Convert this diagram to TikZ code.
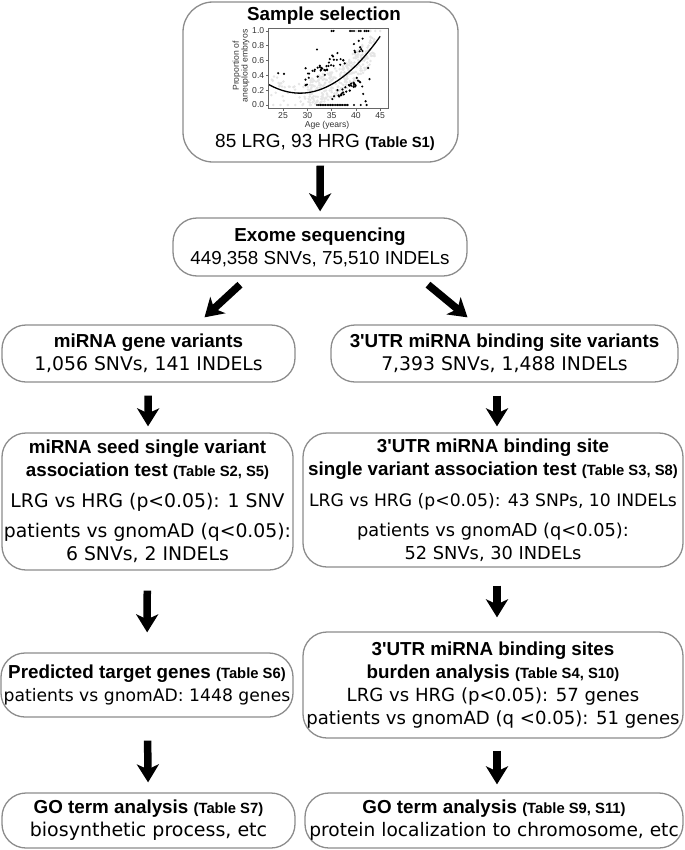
\documentclass[tikz,border=0pt]{standalone}
\usepackage{fontspec}
\setmainfont{Liberation Sans}
\newfontfamily\dejavu{DejaVu Sans}
\usepackage{tikz}
\usetikzlibrary{positioning, calc, arrows.meta}

\newcommand{\boxtitle}[1]{{\fontsize{18.8bp}{23bp}\selectfont\bfseries #1}}
\newcommand{\tabref}[1]{{\fontsize{14.8bp}{23bp}\selectfont\bfseries #1}}
\newcommand{\dv}[2]{{\dejavu\fontsize{#1bp}{23bp}\selectfont #2}}

\begin{document}
\begin{tikzpicture}[x=1bp, y=-1bp]
        % Define block styles
        \tikzstyle{block} = [rectangle, draw=black!45, line width=1.3bp, rounded corners=24bp, align=center, inner sep=0pt, font=\fontsize{18.8bp}{23bp}\selectfont]
        \tikzstyle{bigarrow} = [line width=7.5bp, -{Stealth[width=22bp, length=18bp, inset=5bp]}]
        \tikzstyle{ticklabel} = [font=\fontsize{8.6bp}{9bp}\selectfont, text=black!80, inner sep=1.5bp]

        \useasboundingbox (0,0) rectangle (685,850);

        % Place nodes
        \node [block, minimum width=275bp, minimum height=160bp, rounded corners=30bp] (sample) at (320.5,82) {};
        \node (sample_title) at (324,16) {\boxtitle{Sample selection}};
        \node (sample_count) at (325,142) {\fontsize{19bp}{23bp}\selectfont 85 LRG, 93 HRG \tabref{(Table S1)}};

        \node [block, minimum width=294bp, minimum height=58bp] (exome) at (320,247) {\boxtitle{Exome sequencing}\\ 449,358 SNVs, 75,510 INDELs};

        \node [block, minimum width=293bp, minimum height=57bp] (mir_gene) at (148.5,353.5) {\boxtitle{miRNA gene variants}\\ \dv{18.8}{1,056 SNVs, 141 INDELs}};
        \node [block, minimum width=347bp, minimum height=57bp] (utr_site) at (504.5,353.5) {\boxtitle{3\textquotesingle UTR miRNA binding site variants}\\ \dv{18.8}{7,393 SNVs, 1,488 INDELs}};

        \node [block, minimum width=291bp, minimum height=137bp] (seed_test) at (147.5,501.5) {\boxtitle{miRNA seed single variant}\\ \boxtitle{association test} \tabref{(Table S2, S5)}\\[8bp] \dv{18.8}{LRG vs HRG (p<0.05): 1 SNV}\\[7bp] \dv{18.8}{patients vs gnomAD (q<0.05):}\\ \dv{18.8}{6 SNVs, 2 INDELs}};
        \node [block, minimum width=380bp, minimum height=134bp] (site_test) at (493,500) {\boxtitle{3\textquotesingle UTR miRNA binding site}\\ \boxtitle{single variant association test} \tabref{(Table S3, S8)}\\[8bp] \dv{17.2}{LRG vs HRG (p<0.05): 43 SNPs, 10 INDELs}\\[7bp] \dv{17.8}{patients vs gnomAD (q<0.05):}\\ \dv{17.8}{52 SNVs, 30 INDELs}};

        \node [block, minimum width=292bp, minimum height=64bp] (targets) at (147,685) {\boxtitle{Predicted target genes} \tabref{(Table S6)}\\ \dv{17.2}{patients vs gnomAD: 1448 genes}};
        \node [block, minimum width=380bp, minimum height=106bp] (burden) at (493,685) {\boxtitle{3\textquotesingle UTR miRNA binding sites}\\ \boxtitle{burden analysis} \tabref{(Table S4, S10)}\\ \dv{18.1}{LRG vs HRG (p<0.05): 57 genes}\\ \dv{18.1}{patients vs gnomAD (q <0.05): 51 genes}};

        \node [block, minimum width=293bp, minimum height=55bp] (go_left) at (148.5,820.5) {\boxtitle{GO term analysis} \tabref{(Table S7)}\\ \dv{19}{biosynthetic process, etc}};
        \node [block, minimum width=378bp, minimum height=55bp] (go_right) at (494,820.5) {\boxtitle{GO term analysis} \tabref{(Table S9, S11)}\\ \dv{18.6}{protein localization to chromosome, etc}};

        \coordinate (right_col) at (497,0);

        % Age plot inside the sample box
        \begin{scope}[shift={(161.5,105)}, x=4.86bp, y=74bp]
            \pgfmathsetseed{11}
            \foreach \i in {1,...,300} {
                \pgfmathsetmacro\ag{30.5+13.5*rnd}
                \pgfmathsetmacro\pv{max(0,min(1,0.00283*(\ag-28.5)^2+0.16+0.2*rand))}
                \fill[black!10] (\ag,\pv) circle (1.4bp);
            }
            \foreach \i in {1,...,40} {
                \pgfmathsetmacro\ag{22.5+9*rnd}
                \pgfmathsetmacro\pv{max(0,0.00283*(\ag-28.5)^2+0.16+0.15*rand)}
                \fill[black!10] (\ag,\pv) circle (1.4bp);
            }
            \foreach \ag in {23,24.5,...,31} \fill[black!10] (\ag,0) circle (1.4bp);
            \foreach \ag in {40,41,...,45} \fill[black!10] (\ag,1) circle (1.4bp);

            \draw[line width=1.3bp, domain=22:45, smooth, samples=40] plot (\x, {0.00283*(\x-28.5)^2+0.16});

            % LRG and HRG patients
            \foreach \ag in {32,32.35,...,38.5, 39.6, 41, 42.2} \fill (\ag,0) circle (1.2bp);
            \foreach \ag in {35,35.4,38.8,39.2,39.6,40.6,41,41.8,42.2,42.6} \fill (\ag,1) circle (1.2bp);
            \foreach \i in {1,...,48} {
                \pgfmathsetmacro\ag{29.5+12*rnd}
                \pgfmathsetmacro\pv{0.38+(\ag-29.5)*0.035+0.12*rand}
                \fill (\ag,\pv) circle (1.2bp);
            }
            \foreach \i in {1,...,32} {
                \pgfmathsetmacro\ag{35+6*rnd}
                \pgfmathsetmacro\pv{0.1+(\ag-35)*0.04+0.06*rand}
                \fill (\ag,\pv) circle (1.2bp);
            }
            \foreach \ag/\pv in {24/0.43, 25.2/0.42, 32/0.75, 42.5/0.5, 42.8/0.35, 41.5/0.15, 42/0.05, 41.3/0.25}
                \fill (\ag,\pv) circle (1.2bp);

            \draw[black!60, line width=0.6bp] (21.9,-0.04) rectangle (46.6,1.04);
            \foreach \v/\l [count=\k] in {0/0.0, 0.2/0.2, 0.4/0.4, 0.6/0.6, 0.8/0.8, 1/1.0}
                \draw[black!60, line width=0.6bp] (21.9,\v) -- (21.5,\v) node[left, ticklabel] (ytick\k) {\l};
            \foreach \a [count=\k] in {25,30,...,45}
                \draw[black!60, line width=0.6bp] (\a,-0.04) -- (\a,-0.08) node[below, ticklabel] (xtick\k) {\a};
        \end{scope}
        \node[ticklabel] (age_label) at (327,125) {Age (years)};
        \node[ticklabel, rotate=90, align=center, font=\fontsize{8.6bp}{8.6bp}\selectfont] (prop_label) at (241,66) {Proportion of\\aneuploid embryos};

        % Draw connections as arrows
        \draw [bigarrow, shorten <=3bp, shorten >=6bp] (sample) -- (exome);
        \draw [bigarrow] ($(exome.south)+(-80,8)$) -- ($(mir_gene.north)+(56,-7)$);
        \draw [bigarrow] ($(exome.south)+(108,8)$) -- ($(utr_site.north)+(-37,-7)$);
        \draw [bigarrow, shorten <=13bp, shorten >=6bp] (mir_gene) -- (seed_test);
        \draw [bigarrow, shorten <=13bp, shorten >=6bp] (utr_site.south -| right_col) -- (site_test.north -| right_col);
        \draw [bigarrow, shorten <=20bp, shorten >=20bp] (seed_test) -- (targets);
        \draw [bigarrow, shorten <=18bp, shorten >=14bp] (site_test.south -| right_col) -- (burden.north -| right_col);
        \draw [bigarrow, shorten <=23bp, shorten >=10bp] (targets) -- (go_left);
        \draw [bigarrow, shorten <=12bp, shorten >=8bp] (burden.south -| right_col) -- (go_right.north -| right_col);
\end{tikzpicture}
\end{document}
